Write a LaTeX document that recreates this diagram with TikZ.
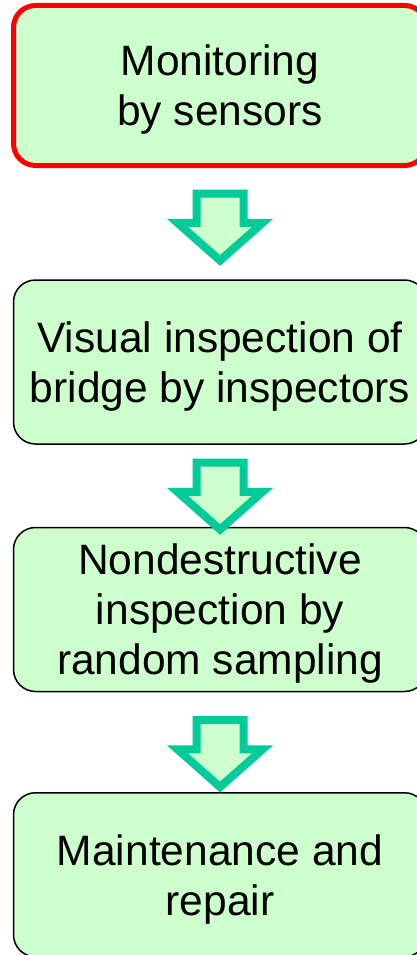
\documentclass[tikz,border=0pt]{standalone}
\usepackage{fontspec}
\setmainfont{Liberation Sans}
\usepackage{tikz}
\usetikzlibrary{positioning,shapes.arrows}
\definecolor{boxfill}{HTML}{CCFFCC}
\definecolor{arrowline}{HTML}{00CC99}
\tikzset{
    stage/.style={
    rectangle,rounded corners=22pt,draw=black,line width=1.5pt,fill=boxfill,
    minimum width=413pt,minimum height=164pt,align=center,
    font=\fontsize{42.5}{50}\selectfont,text depth=-1pt
    },
    rstage/.style={
    stage,draw=red,line width=5pt,minimum height=160pt
    },
    flowarrow/.style={
    single arrow,rotate=-90,draw=arrowline,line width=8pt,fill=boxfill,
    inner xsep=0pt,inner ysep=19.5pt,minimum height=67pt,
    single arrow head extend=19pt,single arrow tip angle=97
    },
}
\begin{document}
\begin{tikzpicture}[x=1pt, y=-1pt, on grid]
   \useasboundingbox (0,0) rectangle (417,955);
   \clip (0,0) rectangle (417,955);
   \node[rstage] (MON) at (220,85.5) {Monitoring\\by sensors};
   \node[stage]  (VIS) [below=276.5pt of MON] {Visual inspection of\\bridge by inspectors};
   \node[stage]  (NDI) [below=247.5pt of VIS] {Nondestructive\\inspection by\\random sampling};
   \node[stage]  (MNT) [below=265.25pt of NDI] {Maintenance and\\repair};

   % block arrows between the stages
   \node[flowarrow, anchor=tail] (A1) at ([yshift=-21.5pt]MON.south) {};
   \node[flowarrow, anchor=tail] (A2) at ([yshift=-13.75pt]VIS.south) {};
   \node[flowarrow, anchor=tail] (A3) at ([yshift=-23.75pt]NDI.south) {};
\end{tikzpicture}
\end{document}
